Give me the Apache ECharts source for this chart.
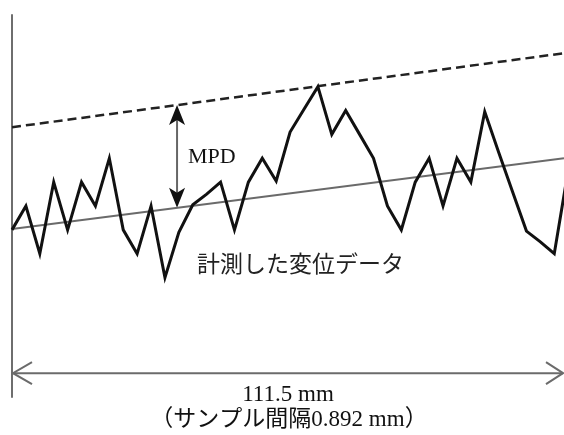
<!DOCTYPE html>
<html>
<head>
<meta charset="utf-8">
<script src="https://cdn.jsdelivr.net/npm/echarts@6.0.0/dist/echarts.min.js"></script>
<style>
    html, body { margin: 0; padding: 0; background: #fff; }
    #show_picture { width: 564px; height: 435px; }
</style>
</head>
<body>
<div id="show_picture"></div>
<script>
// sample number along the profile (0.892 mm per sample in the original drawing)
const sampleIndex = [0, 1, 2, 3, 4, 5, 6, 7, 8, 9, 10, 11, 12, 13, 14, 15, 16, 17, 18, 19,
    20, 21, 22, 23, 24, 25, 26, 27, 28, 29, 30, 31, 32, 33, 34, 35, 36, 37, 38, 39, 40];
const profile = [2, 3, 1, 4, 2, 4, 3, 5, 2, 1, 3, 0, 1.9, 3.05, 3.5, 4, 2, 4, 5, 4.05,
    6.1, 7.05, 8, 6, 7, 6, 5, 3, 2, 4, 5, 3, 5, 4, 6.95, 5.25, 3.6, 1.95, 1.5, 1, 4.5];
// mean line and peak line (start / end)
const meanX = [0, 39.7];
const meanY = [2.04, 5.0];
const peakX = [0, 39.7];
const peakY = [6.3, 9.4];
// where the MPD arrow and the span arrow sit
const mpdAt = 11.87;
const spanY = -4;
const xRange = [0, 39.7];
const yRange = [-5, 11];

let show_picture = document.getElementById('show_picture');
let myChart = echarts.init(show_picture);

function along(xs, ys, x) {
    return ys[0] + (ys[1] - ys[0]) * (x - xs[0]) / (xs[1] - xs[0]);
}

const profileData = sampleIndex.map((x, i) => [x, profile[i]]);
const meanData = meanX.map((x, i) => [x, meanY[i]]);
const peakData = peakX.map((x, i) => [x, peakY[i]]);

const serif = '"Liberation Serif", "Noto Sans CJK JP", serif';

let option = {
    backgroundColor: '#fff',
    animation: false,
    grid: { left: 12, top: 15, width: 552, height: 382 },
    xAxis: {
        type: 'value',
        min: xRange[0],
        max: xRange[1],
        show: false
    },
    yAxis: {
        type: 'value',
        min: yRange[0],
        max: yRange[1],
        axisLine: { show: true, lineStyle: { color: '#6e6e6e', width: 2 } },
        axisTick: { show: false },
        axisLabel: { show: false },
        splitLine: { show: false }
    },
    series: [
        {
            type: 'line',
            data: meanData,
            symbol: 'none',
            silent: true,
            lineStyle: { color: '#6a6a6a', width: 2 }
        },
        {
            type: 'line',
            data: peakData,
            symbol: 'none',
            silent: true,
            lineStyle: { color: '#222', width: 2.5, type: [9, 5] }
        },
        {
            type: 'line',
            data: profileData,
            symbol: 'none',
            silent: true,
            lineStyle: { color: '#111', width: 3, join: 'miter' }
        },
        {
            // span arrow at the bottom and the MPD arrow
            type: 'custom',
            silent: true,
            clip: false,
            data: [[mpdAt, spanY]],
            renderItem: function (params, api) {
                const l = api.coord([xRange[0], spanY]);
                const r = api.coord([xRange[1], spanY]);
                const top = api.coord([mpdAt, along(peakX, peakY, mpdAt)]);
                const bot = api.coord([mpdAt, along(meanX, meanY, mpdAt)]);
                const grey = { stroke: '#6b6b6b', lineWidth: 2, fill: null };
                const x = top[0];
                return {
                    type: 'group',
                    children: [
                        { type: 'line', shape: { x1: l[0], y1: l[1], x2: r[0] - 1, y2: r[1] }, style: grey },
                        { type: 'polyline', shape: { points: [[l[0] + 20, l[1] - 11], [l[0] + 1, l[1]], [l[0] + 20, l[1] + 11]] }, style: grey },
                        { type: 'polyline', shape: { points: [[r[0] - 18, r[1] - 11], [r[0] - 1, r[1]], [r[0] - 18, r[1] + 11]] }, style: grey },
                        { type: 'line', shape: { x1: x, y1: top[1] + 10, x2: x, y2: bot[1] - 10 }, style: { stroke: '#666', lineWidth: 2 } },
                        {
                            type: 'polygon',
                            shape: { points: [[x, top[1]], [x + 8, top[1] + 20], [x, top[1] + 15], [x - 8, top[1] + 20]] },
                            style: { fill: '#111' }
                        },
                        {
                            type: 'polygon',
                            shape: { points: [[x, bot[1]], [x + 8, bot[1] - 20], [x, bot[1] - 15], [x - 8, bot[1] - 20]] },
                            style: { fill: '#111' }
                        }
                    ]
                };
            }
        }
    ],
    graphic: [
        {
            type: 'text', x: 188, y: 157,
            style: { text: 'MPD', font: '22px ' + serif, fill: '#111', textVerticalAlign: 'middle' }
        },
        {
            type: 'text', x: 197, y: 263,
            style: { text: '計測した変位データ', font: '23px "Noto Sans CJK JP", sans-serif', fill: '#222', textVerticalAlign: 'middle' }
        },
        {
            type: 'text', x: 288, y: 395,
            style: { text: '111.5 mm', font: '23px ' + serif, fill: '#111', textAlign: 'center', textVerticalAlign: 'middle' }
        },
        {
            type: 'text', x: 289, y: 420,
            style: { text: '（サンプル間隔0.892 mm）', font: '23px ' + serif, fill: '#111', textAlign: 'center', textVerticalAlign: 'middle' }
        }
    ]
};

option && myChart.setOption(option);
</script>
</body>
</html>
